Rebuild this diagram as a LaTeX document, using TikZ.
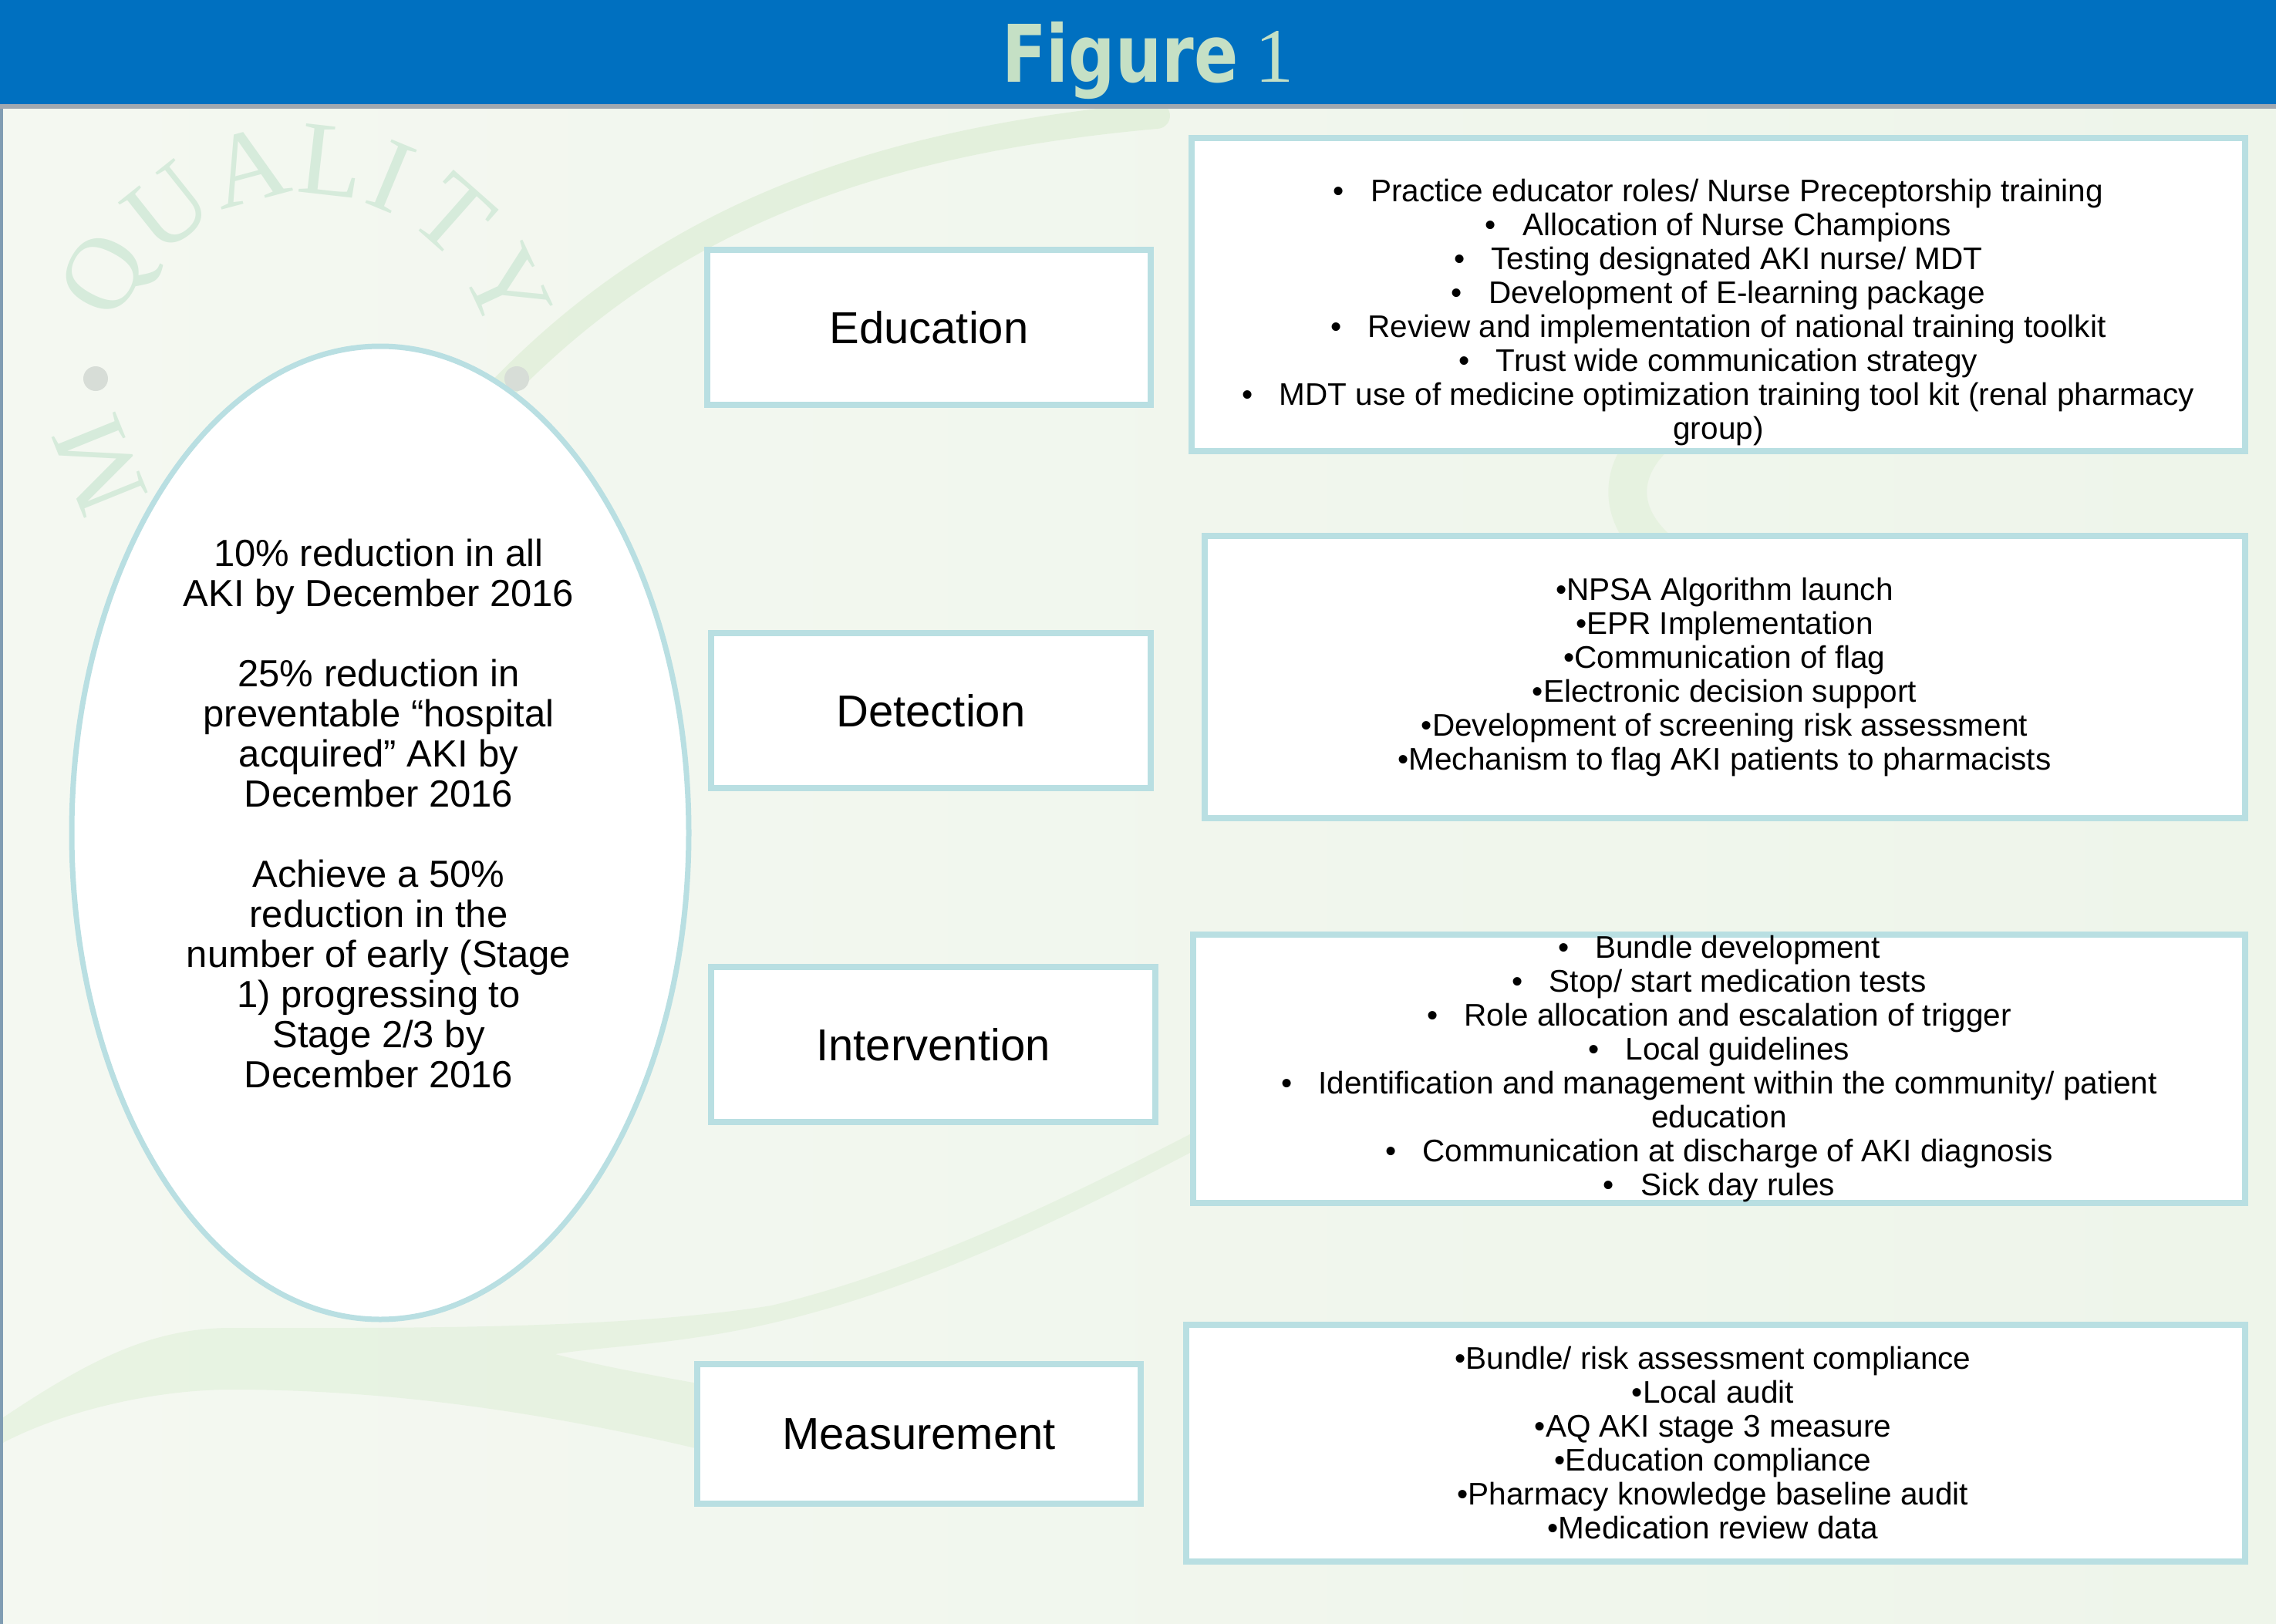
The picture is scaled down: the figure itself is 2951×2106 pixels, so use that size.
\documentclass[tikz,border=0pt]{standalone}
\usepackage{fontspec}
\setmainfont{Liberation Sans}
\newfontfamily\titlefont{DejaVu Sans}
\newfontfamily\wmfont{Liberation Serif}
\usetikzlibrary{shapes.geometric}
\definecolor{hdr}{HTML}{0070C0}
\definecolor{ttl}{HTML}{C5E0C5}
\definecolor{bord}{HTML}{B9DFE2}
\definecolor{bgl}{HTML}{F4F8F1}
\definecolor{bgr}{HTML}{EEF5EA}
\definecolor{wm}{HTML}{D6EBDB}
\definecolor{swoosh}{HTML}{D6EBCC}
\definecolor{hline}{HTML}{A0A8B0}
\definecolor{dotc}{HTML}{D7DDD7}
\newcommand{\mybul}{\textbullet\hspace{34pt}}
\begin{document}
\begin{tikzpicture}[x=1pt,y=-1pt,
  box/.style={draw=bord, line width=8pt, fill=white, rectangle, inner sep=0pt},
  lbl/.style={box, font=\fontsize{58}{66}\selectfont},
  lst/.style={align=center, font=\fontsize{40.5}{44}\selectfont, inner sep=0pt},
  wmark/.style={text=wm, font=\wmfont\fontsize{136}{136}\selectfont, inner sep=0pt},
  sw/.style={draw=swoosh, line cap=round, opacity=0.5}
]
\useasboundingbox (0,0) rectangle (2951,2106);
% background
\shade[left color=bgl, right color=bgr] (0,0) rectangle (2951,2106);
\draw[sw, line width=34pt] (600,560) .. controls (800,330) and (1050,190) .. (1500,150);
\draw[sw, line width=50pt, opacity=0.35] (2180,540) .. controls (2080,600) and (2080,700) .. (2230,760);
\fill[swoosh, opacity=0.38] (0,1841) .. controls (120,1760) and (200,1722) .. (300,1722)
  .. controls (500,1722) and (800,1725) .. (1000,1693)
  .. controls (1200,1645) and (1400,1545) .. (1560,1462) -- (1560,1486)
  .. controls (1400,1570) and (1200,1670) .. (1000,1716)
  .. controls (880,1744) and (780,1746) .. (720,1756)
  .. controls (780,1772) and (850,1784) .. (910,1795) -- (910,1880)
  .. controls (700,1830) and (500,1802) .. (300,1802)
  .. controls (200,1802) and (80,1830) .. (0,1873) -- cycle;
% watermark
\foreach \ch/\a in {Q/152,U/128.5,A/105,L/83.5,I/67.5,T/48.5,Y/25,M/202}
  \node[wmark, rotate=\a-90] (wm\ch) at ({397+288*cos(\a)},{495-288*sin(\a)}) {\ch};
\fill[dotc] (124,491) circle (16);
\fill[dotc] (670,491) circle (16);
% header
\fill[hdr] (0,0) rectangle (2951,135);
\fill[hline] (0,135) rectangle (2951,141);
\fill[hline!80!hdr] (0,141) rectangle (4,2106);
\node[anchor=base west, inner sep=0pt, text=ttl] (title) at (1299,107)
  {\scalebox{0.82}[1]{\titlefont\bfseries\fontsize{103}{103}\selectfont Figure}};
\node[anchor=base west, inner sep=0pt, text=ttl] (titlenum) at (1627,107)
  {\wmfont\fontsize{100}{100}\selectfont 1};
% goal ellipse
\node[ellipse, draw=bord, line width=7pt, fill=white, minimum width=800pt, minimum height=1262pt, inner sep=0pt] (goalshape) at (493,1080) {};
\node[align=center, inner sep=0pt, font=\fontsize{49}{52}\selectfont] (goal) at (491,1055)
  {10\% reduction in all\\AKI by December 2016\\[52pt]
   25\% reduction in\\preventable “hospital\\acquired” AKI by\\December 2016\\[52pt]
   Achieve a 50\%\\reduction in the\\number of early (Stage\\1) progressing to\\Stage 2/3 by\\December 2016};
% category boxes
\node[lbl, minimum width=575pt, minimum height=201pt] (edu) at (1204.5,424.5) {Education};
\node[lbl, minimum width=570pt, minimum height=201pt] (det) at (1207,921.5) {Detection};
\node[lbl, minimum width=576pt, minimum height=201pt] (int) at (1210,1354.5) {Intervention};
\node[lbl, minimum width=575pt, minimum height=181pt] (mea) at (1191.5,1859.5) {Measurement};
% list boxes
\node[box, minimum width=1366pt, minimum height=406pt] (edubox) at (2228,382) {};
\node[box, minimum width=1349pt, minimum height=366pt] (detbox) at (2236.5,878) {};
\node[box, minimum width=1364pt, minimum height=348pt] (intbox) at (2229,1386) {};
\node[box, minimum width=1373pt, minimum height=307pt] (meabox) at (2224.5,1871.5) {};
% list texts
\node[lst] (edulist) at (2228,405)
  {\mybul Practice educator roles/ Nurse Preceptorship training\\
   \mybul Allocation of Nurse Champions\\
   \mybul Testing designated AKI nurse/ MDT\\
   \mybul Development of E-learning package\\
   \mybul Review and implementation of national training toolkit\\
   \mybul Trust wide communication strategy\\
   \mybul MDT use of medicine optimization training tool kit (renal pharmacy\\
   group)};
\node[lst] (detlist) at (2236,878)
  {\textbullet{}NPSA Algorithm launch\\
   \textbullet{}EPR Implementation\\
   \textbullet{}Communication of flag\\
   \textbullet{}Electronic decision support\\
   \textbullet{}Development of screening risk assessment\\
   \textbullet{}Mechanism to flag AKI patients to pharmacists};
\node[lst] (intlist) at (2229,1386)
  {\mybul Bundle development\\
   \mybul Stop/ start medication tests\\
   \mybul Role allocation and escalation of trigger\\
   \mybul Local guidelines\\
   \mybul Identification and management within the community/ patient\\
   education\\
   \mybul Communication at discharge of AKI diagnosis\\
   \mybul Sick day rules};
\node[lst] (mealist) at (2221,1871)
  {\textbullet{}Bundle/ risk assessment compliance\\
   \textbullet{}Local audit\\
   \textbullet{}AQ AKI stage 3 measure\\
   \textbullet{}Education compliance\\
   \textbullet{}Pharmacy knowledge baseline audit\\
   \textbullet{}Medication review data};
\end{tikzpicture}
\end{document}
